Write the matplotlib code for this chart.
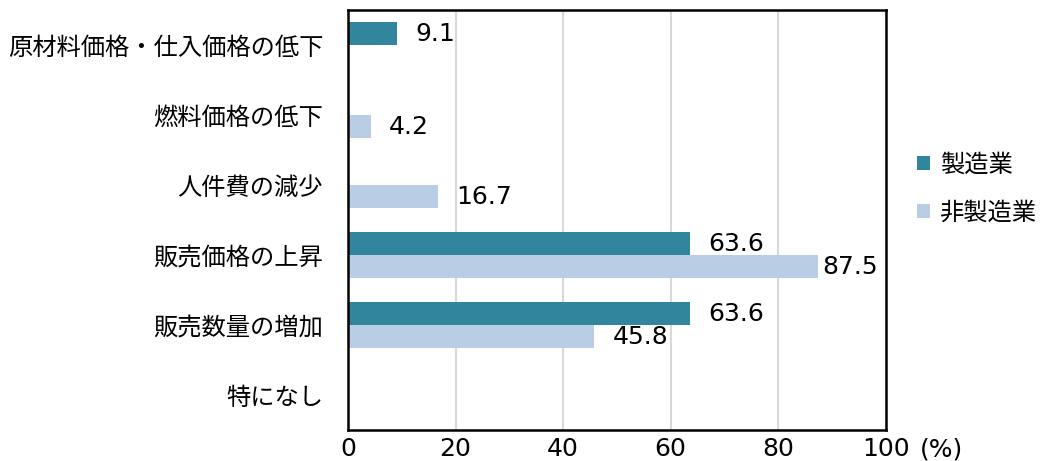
import matplotlib
matplotlib.use("Agg")
import matplotlib.pyplot as plt
import numpy as np

plt.rcParams['font.family'] = ['Noto Sans CJK JP', 'DejaVu Sans']

categories = ['原材料価格・仕入価格の低下', '燃料価格の低下', '人件費の減少',
              '販売価格の上昇', '販売数量の増加', '特になし']
manufacturing = [9.1, 0, 0, 63.6, 63.6, 0]
non_manufacturing = [0, 4.2, 16.7, 87.5, 45.8, 0]
series_names = ['製造業', '非製造業']
xticks = [0, 20, 40, 60, 80, 100]

teal = '#31859C'
light = '#B9CDE5'
fs = 18

fig = plt.figure(figsize=(10.42, 4.61), dpi=100)
ax = fig.add_axes([0.334, 0.067, 0.516, 0.911])

y = np.arange(len(categories))
h = 0.33
b1 = ax.barh(y - h / 2, manufacturing, height=h, color=teal, label=series_names[0])
b2 = ax.barh(y + h / 2, non_manufacturing, height=h, color=light, label=series_names[1])

# value labels, skipped where the value is zero
for bars, vals in ((b1, manufacturing), (b2, non_manufacturing)):
    for bar, v in zip(bars, vals):
        if v == 0:
            continue
        off = 4 if v > 85 else 18
        ax.annotate(f'{v:.1f}', (v, bar.get_y() + bar.get_height() / 2),
                    xytext=(off, 0), textcoords='offset pixels',
                    va='center', ha='left', fontsize=fs, family='DejaVu Sans')

ax.set_xlim(0, 100)
ax.set_ylim(len(categories) - 0.5, -0.5)
ax.set_yticks(y)
ax.set_yticklabels(categories, fontsize=17.5)
ax.set_xticks(xticks)
ax.set_xticklabels([str(t) for t in xticks], fontsize=fs, family='DejaVu Sans')
ax.tick_params(axis='both', length=0)
ax.tick_params(axis='y', pad=18)
ax.tick_params(axis='x', pad=5)
ax.grid(axis='x', color='#D9D9D9', linewidth=1.5)
ax.set_axisbelow(True)
for s in ax.spines.values():
    s.set_color('black')
    s.set_linewidth(1.8)

# unit after the last tick label
ax.annotate('(%)', xy=(100, 0), xycoords=('data', 'axes fraction'),
            xytext=(34, -7), textcoords='offset pixels',
            ha='left', va='top', fontsize=fs, family='DejaVu Sans')

ax.legend(loc='center left', bbox_to_anchor=(1.026, 0.575), frameon=False,
          fontsize=17.5, handlelength=0.55, handleheight=0.55, handletextpad=0.4,
          labelspacing=0.9, borderaxespad=0.3)

fig.savefig('out.png', dpi=100)
